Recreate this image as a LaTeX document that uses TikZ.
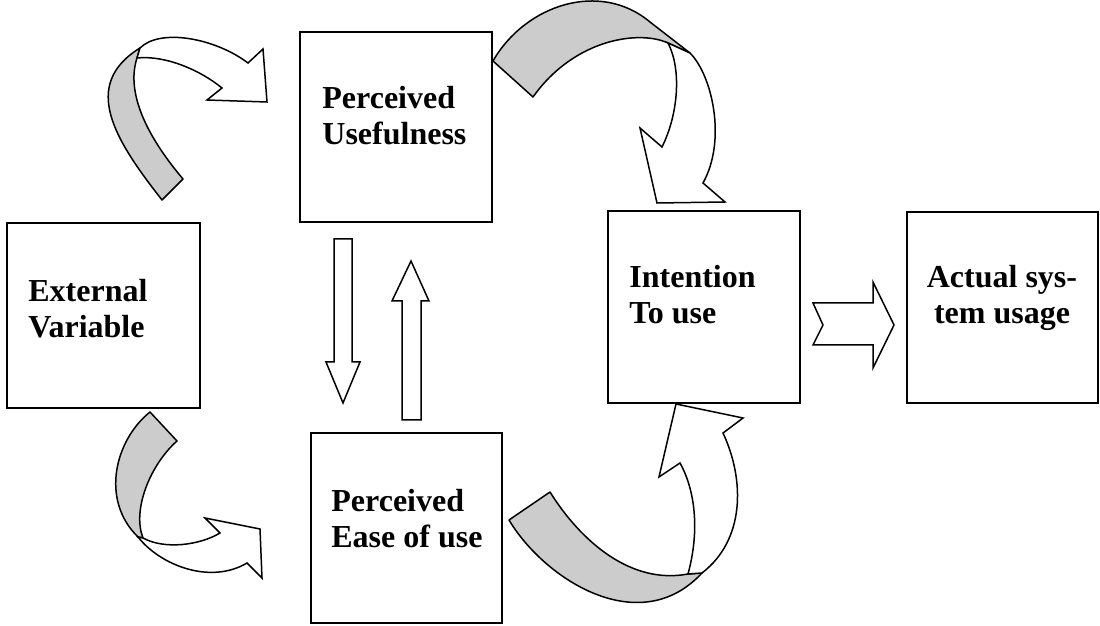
\documentclass[tikz,border=0pt]{standalone}
\usepackage{fontspec}
\setmainfont{Liberation Serif}
\definecolor{TamGray}{RGB}{204,204,204}
\tikzset{
  tam/box/.style={
    draw=black,
    line width=1pt,
    fill=white,
    inner sep=0pt
  },
  tam/label/.style={
    font=\fontsize{16}{18}\selectfont\bfseries,
    align=left,
    inner sep=0pt
  },
  tam/band/.style={draw=black, line width=0.75pt, fill=TamGray, line join=round},
  tam/shaft/.style={draw=black, line width=0.75pt, fill=white, line join=miter}
}
\begin{document}
\begin{tikzpicture}[x=0.5pt,y=-0.5pt]
  \useasboundingbox (0,0) rectangle (1100,626);
  % the five constructs
  \node[tam/box,minimum width=96.5pt,minimum height=92.5pt] (ext)  at (103.5,315.5) {};
  \node[tam/box,minimum width=96pt,minimum height=95pt]     (pu)   at (396,127) {};
  \node[tam/box,minimum width=95.5pt,minimum height=95pt]   (peou) at (406.5,528) {};
  \node[tam/box,minimum width=96pt,minimum height=96pt]     (itu)  at (704,307) {};
  \node[tam/box,minimum width=95.5pt,minimum height=95.5pt] (asu)  at (1002.5,307.5) {};
  % labels (base = last line)
  \node[tam/label,anchor=base west] (ext-text)  at (28,338)  {External\\Variable};
  \node[tam/label,anchor=base west] (pu-text)   at (322,145) {Perceived\\Usefulness};
  \node[tam/label,anchor=base west] (peou-text) at (331,547) {Perceived\\Ease of use};
  \node[tam/label,anchor=base west] (itu-text)  at (629,324) {Intention\\To use};
  \node[tam/label,anchor=base,align=center] (asu-text) at (1002,324) {Actual sys-\\tem usage};
  % straight block arrows
  \draw[tam/shaft] (334,239) -- (352,239) -- (352,362) -- (360,362) -- (343,403)
    -- (326,362) -- (334,362) -- cycle;
  \draw[tam/shaft] (402,420) -- (421,420) -- (421,301) -- (429,301) -- (411,261)
    -- (392,301) -- (402,301) -- cycle;
  \draw[tam/shaft] (813,303) -- (873,303) -- (873,282) -- (894,325) -- (873,368)
    -- (873,345) -- (813,345) -- (823,325) -- cycle;
  % curved arrow: external -> usefulness
  \draw[tam/band] (162,200) .. controls (115,140) and (80,85) .. (140,48) -- (137,58)
    .. controls (125,95) and (150,140) .. (183,179) -- cycle;
  \draw[tam/shaft] (140,48) .. controls (160,28) and (215,38) .. (248,63) -- (263,49)
    -- (267,102) -- (207,100) -- (222,88) .. controls (200,70) and (165,55) .. (137,58) -- cycle;
  % curved arrow: usefulness -> intention
  \draw[tam/band] (493,61) .. controls (525,5) and (600,-20) .. (650,22) -- (690,53)
    -- (668,43) .. controls (640,30) and (575,38) .. (533,97) -- cycle;
  \draw[tam/shaft] (690,53) .. controls (712,75) and (727,140) .. (703,183) -- (725,202)
    -- (657,203) -- (640,128) -- (662,147) .. controls (678,115) and (682,70) .. (668,43) -- cycle;
  % curved arrow: external -> ease of use
  \draw[tam/band] (150,412) -- (177,441) .. controls (150,465) and (132,510) .. (143,538)
    -- (138,537) .. controls (100,500) and (115,440) .. (150,412) -- cycle;
  \draw[tam/shaft] (138,537) .. controls (160,565) and (210,585) .. (247,563) -- (262,578)
    -- (260,529) -- (205,518) -- (220,533) .. controls (200,545) and (165,550) .. (143,538) -- cycle;
  % curved arrow: ease of use -> intention
  \draw[tam/band] (509,520) -- (550,492) .. controls (580,540) and (630,585) .. (688,574)
    -- (702,573) .. controls (640,640) and (545,580) .. (509,520) -- cycle;
  \draw[tam/shaft] (688,574) .. controls (700,530) and (695,490) .. (680,463) -- (659,477)
    -- (676,404) -- (743,418) -- (723,433) .. controls (745,480) and (745,540) .. (702,573) -- cycle;
\end{tikzpicture}
\end{document}
